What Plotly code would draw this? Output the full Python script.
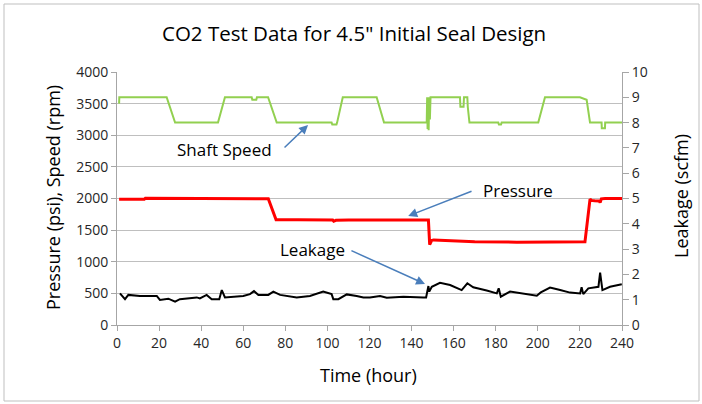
import plotly.graph_objects as go

# ---------------- data ----------------
speed_t = [1, 1.1, 23.6, 27.6, 48, 51.3, 64, 64.3, 66.2, 66.5, 71.8, 75.9,
           102, 102.3, 104.3, 104.6, 107.3, 123.4, 126.9, 147.2, 147.4, 147.6,
           147.8, 148.1, 148.4, 148.7, 149.0, 149.6, 163, 163.2, 164.7, 164.9,
           166.5, 166.7, 167.5, 181.2, 181.5, 182.5, 182.8, 200.2, 203.4, 220,
           221, 223.2, 224.8, 230.3, 230.4, 231.9, 232, 240]
speed_v = [3500, 3600, 3600, 3200, 3200, 3600, 3600, 3560, 3560, 3600, 3600, 3200,
           3200, 3170, 3170, 3200, 3600, 3600, 3200, 3200, 3600, 3100,
           3600, 3080, 3600, 3250, 3600, 3600, 3600, 3450, 3450, 3600,
           3600, 3450, 3200, 3200, 3170, 3170, 3200, 3200, 3600, 3600,
           3585, 3560, 3200, 3200, 3110, 3110, 3200, 3200]

press_t = [1, 13, 13.5, 22.5, 23, 45, 71.9, 75.6, 83, 83.5, 85.5, 86, 102.5,
           103, 104, 110, 130, 148, 148.6, 149.5, 150.5, 160, 170, 190, 200,
           222.4, 224.8, 225.5, 227, 229.2, 229.6, 230.2, 232, 240]
press_v = [1990, 1990, 2005, 2005, 1995, 1995, 1995, 1665, 1665, 1675, 1675, 1665, 1660,
           1640, 1655, 1660, 1660, 1660, 1270, 1335, 1345, 1335, 1315, 1310, 1310,
           1315, 1990, 1970, 1965, 1960, 1935, 1995, 2000, 2000]

leak_t = [1.4, 3.8, 5.4, 10.9, 18.9, 20.4, 24.4, 27.6, 29.9, 37.9, 39.4, 42.6,
          45, 48.6, 49.8, 51.3, 60, 63.2, 65.1, 67.2, 71.9, 74.3, 77.5, 85.4,
          91.7, 98, 102, 102.8, 105.2, 109.2, 113.9, 117.1, 120.2, 125, 128.2,
          136.1, 145.6, 146.9, 148, 148.4, 149.6, 153.5, 158.3, 163.8, 166.5,
          169.3, 175.7, 180.5, 181.4, 182.4, 186.8, 191.5, 199.5, 201.4, 205.8,
          210.6, 215.3, 220.1, 220.8, 221.6, 224, 228.8, 229.6, 230.7, 234.3, 239.9]
leak_v = [1.25, 1.02, 1.19, 1.15, 1.15, 0.99, 1.04, 0.92, 1.02, 1.09, 1.05, 1.19,
          1.02, 1.02, 1.38, 1.09, 1.15, 1.22, 1.34, 1.19, 1.19, 1.32, 1.19, 1.09,
          1.15, 1.32, 1.22, 1.02, 1.02, 1.21, 1.15, 1.09, 1.09, 1.15, 1.08,
          1.12, 1.09, 1.09, 1.54, 1.32, 1.51, 1.67, 1.58, 1.38, 1.65,
          1.49, 1.36, 1.25, 1.45, 1.12, 1.32, 1.25, 1.16, 1.29, 1.48,
          1.38, 1.28, 1.25, 1.49, 1.22, 1.45, 1.51, 2.07, 1.38, 1.51, 1.61]

x_ticks = list(range(0, 241, 20))
left_ticks = list(range(0, 4001, 500))
right_ticks = list(range(0, 11))

FONT = "Open Sans"
TXT = "#262626"
AXC = "#a6a6a6"

fig = go.Figure()
fig.add_trace(go.Scatter(x=speed_t, y=speed_v, mode="lines", name="Shaft Speed",
                         line=dict(color="#92d050", width=2)))
fig.add_trace(go.Scatter(x=press_t, y=press_v, mode="lines", name="Pressure",
                         line=dict(color="#ff0000", width=3)))
fig.add_trace(go.Scatter(x=leak_t, y=leak_v, mode="lines", name="Leakage", yaxis="y2",
                         line=dict(color="#000000", width=2)))

fig.update_layout(
    width=702, height=404,
    margin=dict(l=117, r=80, t=72, b=79),
    paper_bgcolor="white", plot_bgcolor="white",
    showlegend=False,
    font=dict(family=FONT, color=TXT, size=14),
    xaxis=dict(range=[0, 240], tickvals=x_ticks, ticktext=[str(v) for v in x_ticks],
               showgrid=False, zeroline=False, showline=True, linecolor=AXC, linewidth=1,
               ticks="outside", ticklen=5, tickcolor=AXC,
               tickfont=dict(family=FONT, size=14, color=TXT)),
    yaxis=dict(range=[0, 4000], tickvals=left_ticks, ticktext=[str(v) for v in left_ticks],
               showgrid=True, gridcolor="#bfbfbf", gridwidth=1, zeroline=False,
               showline=True, linecolor=AXC, linewidth=1,
               ticks="outside", ticklen=5, tickcolor=AXC,
               tickfont=dict(family=FONT, size=14, color=TXT)),
    yaxis2=dict(range=[0, 10], tickvals=right_ticks, ticktext=[str(v) for v in right_ticks],
                overlaying="y", side="right", showgrid=False, zeroline=False,
                showline=True, linecolor=AXC, linewidth=1,
                ticks="outside", ticklen=6, tickcolor=AXC,
                tickfont=dict(family=FONT, size=14, color=TXT)),
)

W, H = 505, 253
def px(x):
    return (x - 117) / W
def py(y):
    return (325 - y) / H

anns = [
    dict(text="CO2 Test Data for 4.5\" Initial Seal Design", x=px(354), y=py(33),
         xref="paper", yref="paper", showarrow=False, font=dict(size=20.5, family=FONT, color="#000"),
         xanchor="center", yanchor="middle"),
    dict(text="Time (hour)", x=px(368), y=py(375), xref="paper", yref="paper", showarrow=False,
         font=dict(size=18, family=FONT, color="#000"), xanchor="center", yanchor="middle"),
    dict(text="Pressure (psi), Speed (rpm)", x=px(53), y=py(198), xref="paper", yref="paper",
         showarrow=False, textangle=-90, font=dict(size=18, family=FONT, color="#000"),
         xanchor="center", yanchor="middle"),
    dict(text="Leakage (scfm)", x=px(681), y=py(196), xref="paper", yref="paper",
         showarrow=False, textangle=-90, font=dict(size=18, family=FONT, color="#000"),
         xanchor="center", yanchor="middle"),
    dict(text="Shaft Speed", x=51.3, y=2767, xref="x", yref="y", showarrow=False,
         font=dict(size=17, family=FONT, color="#000"), xanchor="center", yanchor="middle"),
    dict(text="Pressure", x=190.6, y=2134, xref="x", yref="y", showarrow=False,
         font=dict(size=17, family=FONT, color="#000"), xanchor="center", yanchor="middle"),
    dict(text="Leakage", x=92.7, y=1186, xref="x", yref="y", showarrow=False,
         font=dict(size=17, family=FONT, color="#000"), xanchor="center", yanchor="middle"),
]
arrows = [((78.9, 2783), (90.8, 3162)), ((169.2, 2123), (138.4, 1723)), ((110.7, 1186), (146.4, 648))]
for (tx, ty), (hx, hy) in arrows:
    anns.append(dict(text="", x=hx, y=hy, ax=tx, ay=ty, xref="x", yref="y", axref="x", ayref="y",
                     showarrow=True, arrowhead=2, arrowsize=1.2, arrowwidth=1.5,
                     arrowcolor="#4a7ebb"))
fig.update_layout(annotations=anns)

fig.add_shape(type="rect", xref="paper", yref="paper", x0=px(4), x1=px(699), y0=py(401), y1=py(4),
              line=dict(color="#bfbfbf", width=1), fillcolor="rgba(0,0,0,0)", layer="below")

fig.write_html("out.html", config={"displayModeBar": False},
               post_script="document.body.style.margin='0';document.body.style.overflow='hidden';")
